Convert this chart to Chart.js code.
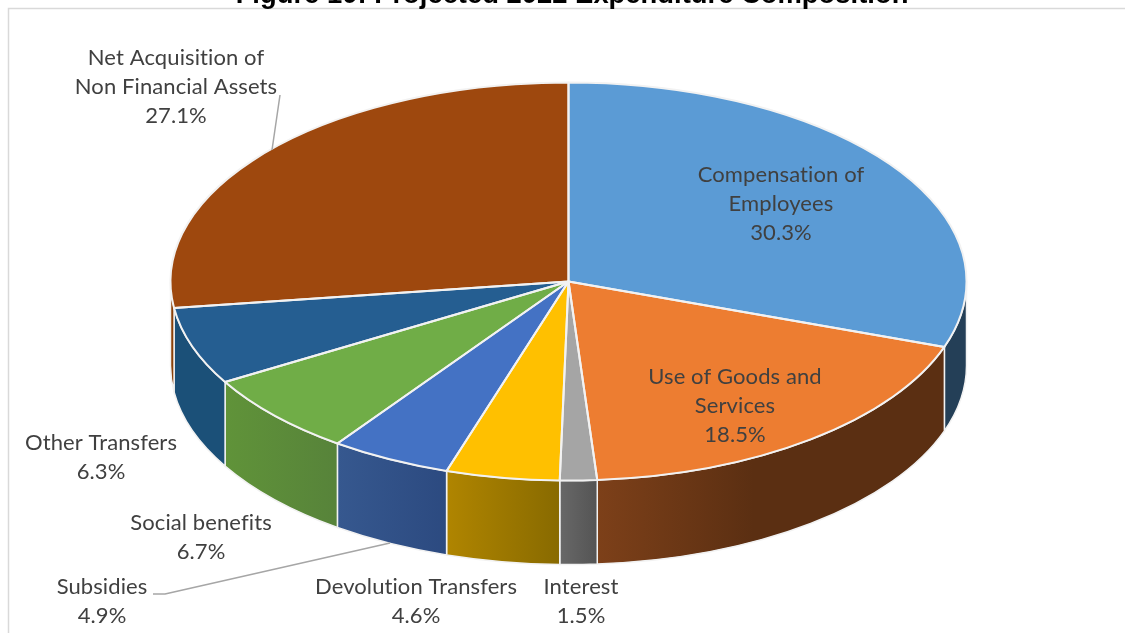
<!DOCTYPE html>
<html>
<head>
<meta charset="utf-8">
<title>Projected 2022 Expenditure Composition</title>
<script src="https://cdn.jsdelivr.net/npm/chart.js@4"></script>
<style>
    html, body { margin: 0; padding: 0; background: #fff; overflow: hidden; }
    canvas { display: block; }
</style>
</head>
<body>
<canvas id="expenditureChart" width="1125" height="633"></canvas>
<script>
// Chart data
const chartTitle = 'Figure 10: Projected 2022 Expenditure Composition';
const categories = [
    ['Compensation of', 'Employees'],
    ['Use of Goods and', 'Services'],
    ['Interest'],
    ['Devolution Transfers'],
    ['Subsidies'],
    ['Social benefits'],
    ['Other Transfers'],
    ['Net Acquisition of', 'Non Financial Assets']
];
const shares = [30.3, 18.5, 1.5, 4.6, 4.9, 6.7, 6.3, 27.1];

// Slice colours
const topColors = ['#5b9bd5', '#ed7d31', '#a5a5a5', '#ffc000', '#4472c4', '#70ad47', '#255e91', '#9e480e'];
const wallLeftColors = ['#243f57', '#7d4019', '#686868', '#b08500', '#36588f', '#609339', '#1b5078', '#8a4109'];
const wallRightColors = ['#243f57', '#5b2f12', '#545454', '#886a00', '#2c4a80', '#57833a', '#1b5078', '#8a4109'];
// How far across each wall the shading runs before it goes flat
const wallFadeEnd = [1, 0.45, 1, 1, 1, 1, 1, 1];

// Label centres, one per category
const labelX = [781, 735, 581, 416, 102, 201, 101, 176];
const labelY = [175, 377, 587, 587, 587, 523, 443, 58];
const lineHeight = 29;

// Tilt of the pie
const radius = 398;
const squash = 0.5;
const wallHeight = 84;
const edgeColor = '#f2f2f2';

function arcAt(chart) {
    return chart.getDatasetMeta(0).data;
}

// Extruded side of each slice, only the part facing the viewer
function drawWalls(ctx, arcs) {
    arcs.forEach((arc, i) => {
        const from = Math.max(arc.startAngle, 0);
        const to = Math.min(arc.endAngle, Math.PI);
        if (to <= from) return;

        const ry = radius * squash;
        const left = arc.x + radius * Math.cos(to);
        const right = arc.x + radius * Math.cos(from);
        const fill = ctx.createLinearGradient(left, 0, right, 0);
        fill.addColorStop(0, wallLeftColors[i]);
        fill.addColorStop(wallFadeEnd[i], wallRightColors[i]);

        ctx.beginPath();
        ctx.ellipse(arc.x, arc.y, radius, ry, 0, from, to);
        ctx.ellipse(arc.x, arc.y + wallHeight, radius, ry, 0, to, from, true);
        ctx.closePath();
        ctx.fillStyle = fill;
        ctx.fill();
        ctx.strokeStyle = edgeColor;
        ctx.lineWidth = 1.5;
        ctx.stroke();
    });
}

// Light outline round the top faces, stroked without the squash so the width stays even
function drawOutlines(ctx, arcs) {
    ctx.strokeStyle = edgeColor;
    ctx.lineWidth = 2;
    ctx.lineJoin = 'round';
    arcs.forEach(arc => {
        ctx.beginPath();
        ctx.moveTo(arc.x, arc.y);
        ctx.ellipse(arc.x, arc.y, radius, radius * squash, 0, arc.startAngle, arc.endAngle);
        ctx.closePath();
        ctx.stroke();
    });
}

function drawLeaders(ctx) {
    ctx.strokeStyle = '#a6a6a6';
    ctx.lineWidth = 1.5;
    ctx.beginPath();
    ctx.moveTo(280, 95);
    ctx.lineTo(272, 150);
    ctx.moveTo(153, 594);
    ctx.lineTo(165, 594);
    ctx.lineTo(390, 543);
    ctx.stroke();
}

function drawLabels(ctx) {
    ctx.fillStyle = '#404040';
    ctx.font = '22px Lato';
    ctx.letterSpacing = '0.1px';
    ctx.textAlign = 'center';
    ctx.textBaseline = 'middle';
    categories.forEach((lines, i) => {
        const rows = [...lines, shares[i].toFixed(1) + '%'];
        rows.forEach((row, r) => {
            ctx.fillText(row, labelX[i], labelY[i] + r * lineHeight);
        });
    });
    ctx.letterSpacing = '0px';
}

function drawFrame(ctx, chart) {
    ctx.fillStyle = '#fff';
    ctx.fillRect(0, 0, chart.width, chart.height);

    ctx.strokeStyle = '#d9d9d9';
    ctx.lineWidth = 1.5;
    ctx.beginPath();
    ctx.moveTo(8.5, chart.height);
    ctx.lineTo(8.5, 8.5);
    ctx.lineTo(chart.width, 8.5);
    ctx.stroke();

    ctx.fillStyle = '#000';
    ctx.font = 'bold 27.4px "Liberation Sans"';
    ctx.textAlign = 'center';
    ctx.textBaseline = 'alphabetic';
    ctx.fillText(chartTitle, 572, 3);
}

const tiltedPie = {
    id: 'tiltedPie',
    beforeDraw(chart) {
        drawFrame(chart.ctx, chart);
    },
    beforeDatasetsDraw(chart) {
        const ctx = chart.ctx;
        const arcs = arcAt(chart);
        drawWalls(ctx, arcs);

        // the library draws the top faces inside this squash
        ctx.save();
        ctx.translate(arcs[0].x, arcs[0].y);
        ctx.scale(1, squash);
        ctx.translate(-arcs[0].x, -arcs[0].y);
    },
    afterDatasetsDraw(chart) {
        const ctx = chart.ctx;
        ctx.restore();
        drawOutlines(ctx, arcAt(chart));
        drawLeaders(ctx);
        drawLabels(ctx);
    }
};

new Chart(document.getElementById('expenditureChart'), {
    type: 'pie',
    data: {
        labels: categories.map(lines => lines.join(' ')),
        datasets: [{
            data: shares,
            backgroundColor: topColors,
            borderWidth: 0,
            clip: false
        }]
    },
    options: {
        responsive: false,
        animation: false,
        radius: radius,
        layout: {
            padding: { left: 12, right: 0, top: 0, bottom: 70 }
        },
        plugins: {
            legend: { display: false },
            title: { display: false },
            tooltip: { enabled: false }
        }
    },
    plugins: [tiltedPie]
});
</script>
</body>
</html>
